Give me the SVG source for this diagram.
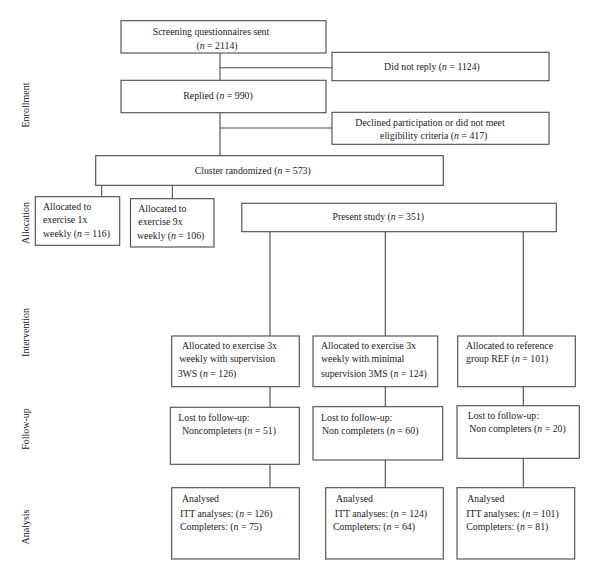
<svg xmlns="http://www.w3.org/2000/svg" width="600" height="580" viewBox="0 0 600 580">
<style>
rect.b{fill:#fff;stroke:#4a4a4a;stroke-width:1.1}
text{font-family:"Liberation Serif","Times New Roman",serif;font-size:9.8px;fill:#222}
.c{text-anchor:middle}
.i{font-style:italic}
.lab{text-anchor:middle;font-size:10px}
#conn line{stroke:#4a4a4a;stroke-width:1.1}
</style>
<rect width="600" height="580" fill="#fff"/>
<g id="conn">
<line x1="220" y1="53" x2="220" y2="80.3"/>
<line x1="220" y1="67.7" x2="332" y2="67.7"/>
<line x1="220" y1="112.7" x2="220" y2="155.7"/>
<line x1="220" y1="128" x2="332" y2="128"/>
<line x1="101.7" y1="185.3" x2="101.7" y2="196.7"/>
<line x1="172.3" y1="185.3" x2="172.3" y2="198.7"/>
<line x1="270" y1="231.7" x2="270" y2="336"/>
<line x1="385.3" y1="231.7" x2="385.3" y2="336"/>
<line x1="523.3" y1="231.7" x2="523.3" y2="336"/>
<line x1="270" y1="386.7" x2="270" y2="407.3"/>
<line x1="385.3" y1="386.7" x2="385.3" y2="406.7"/>
<line x1="523.3" y1="386.7" x2="523.3" y2="405.7"/>
<line x1="270" y1="464.3" x2="270" y2="487.7"/>
<line x1="385.3" y1="460" x2="385.3" y2="487.7"/>
<line x1="523.3" y1="458.3" x2="523.3" y2="487.7"/>
</g>
<g id="labels">
<text class="lab" transform="translate(29,105) rotate(-90)">Enrollment</text>
<text class="lab" transform="translate(29,223) rotate(-90)">Allocation</text>
<text class="lab" transform="translate(29,332.5) rotate(-90)">Intervention</text>
<text class="lab" transform="translate(29,429) rotate(-90)">Follow-up</text>
<text class="lab" transform="translate(29,527) rotate(-90)">Analysis</text>
</g>
<g id="screening">
<rect class="b" x="121" y="20.7" width="205" height="32.3"/>
<text class="c" x="211" y="35">Screening questionnaires sent</text>
<text class="c" x="217" y="48.5">(<tspan class="i">n</tspan> = 2114)</text>
</g>
<g id="noreply">
<rect class="b" x="332" y="52.3" width="217" height="28.4"/>
<text class="c" x="432" y="69.5">Did not reply (<tspan class="i">n</tspan> = 1124)</text>
</g>
<g id="replied">
<rect class="b" x="121" y="80.3" width="205" height="32.4"/>
<text class="c" x="218" y="98.5">Replied (<tspan class="i">n</tspan> = 990)</text>
</g>
<g id="declined">
<rect class="b" x="332" y="112.3" width="217" height="32"/>
<text class="c" x="430" y="126">Declined participation or did not meet</text>
<text class="c" x="433.7" y="139">eligibility criteria (<tspan class="i">n</tspan> = 417)</text>
</g>
<g id="cluster">
<rect class="b" x="95.7" y="155.7" width="347.6" height="29.6"/>
<text class="c" x="252.7" y="174">Cluster randomized (<tspan class="i">n</tspan> = 573)</text>
</g>
<g id="alloc1x">
<rect class="b" x="35.3" y="196.7" width="84.4" height="48.6"/>
<text x="43" y="210">Allocated to</text>
<text x="43" y="223.3">exercise 1x</text>
<text x="43" y="236.5">weekly (<tspan class="i">n</tspan> = 116)</text>
</g>
<g id="alloc9x">
<rect class="b" x="130.5" y="198.7" width="83.5" height="48.3"/>
<text x="138.3" y="211.7">Allocated to</text>
<text x="138.3" y="225">exercise 9x</text>
<text x="137" y="239.3">weekly (<tspan class="i">n</tspan> = 106)</text>
</g>
<g id="present">
<rect class="b" x="241.8" y="203.3" width="314.5" height="28.4"/>
<text class="c" x="378.3" y="220">Present study (<tspan class="i">n</tspan> = 351)</text>
</g>
<g id="int3ws">
<rect class="b" x="171.7" y="336" width="127.6" height="50.7"/>
<text x="182" y="349.3">Allocated to exercise 3x</text>
<text x="179.3" y="362.3">weekly with supervision</text>
<text x="177.7" y="376.7">3WS (<tspan class="i">n</tspan> = 126)</text>
</g>
<g id="int3ms">
<rect class="b" x="313" y="336" width="124.7" height="50.7"/>
<text x="321" y="349.3">Allocated to exercise 3x</text>
<text x="321" y="362.3">weekly with minimal</text>
<text x="321" y="376.7">supervision 3MS (<tspan class="i">n</tspan> = 124)</text>
</g>
<g id="intref">
<rect class="b" x="457.7" y="336" width="117.6" height="50.7"/>
<text x="466" y="349.3">Allocated to reference</text>
<text x="466" y="362.3">group REF (<tspan class="i">n</tspan> = 101)</text>
</g>
<g id="fu3ws">
<rect class="b" x="170.3" y="407.3" width="129" height="57"/>
<text x="178.3" y="421">Lost to follow-up:</text>
<text x="182" y="434.3">Noncompleters (<tspan class="i">n</tspan> = 51)</text>
</g>
<g id="fu3ms">
<rect class="b" x="313" y="406.7" width="129.7" height="53.3"/>
<text x="321" y="420.5">Lost to follow-up:</text>
<text x="322" y="433.5">Non completers (<tspan class="i">n</tspan> = 60)</text>
</g>
<g id="furef">
<rect class="b" x="457" y="405.7" width="122.3" height="52.6"/>
<text x="467.7" y="419.3">Lost to follow-up:</text>
<text x="469.3" y="432.3">Non completers (<tspan class="i">n</tspan> = 20)</text>
</g>
<g id="an3ws">
<rect class="b" x="171.7" y="487.7" width="127.6" height="71.3"/>
<text x="182" y="501.7">Analysed</text>
<text x="180" y="516.7">ITT analyses: (<tspan class="i">n</tspan> = 126)</text>
<text x="180" y="530">Completers: (<tspan class="i">n</tspan> = 75)</text>
</g>
<g id="an3ms">
<rect class="b" x="325.7" y="487.7" width="117.6" height="71.3"/>
<text x="336" y="501.7">Analysed</text>
<text x="334.7" y="516.7">ITT analyses: (<tspan class="i">n</tspan> = 124)</text>
<text x="333" y="530">Completers: (<tspan class="i">n</tspan> = 64)</text>
</g>
<g id="anref">
<rect class="b" x="457" y="487.7" width="117.7" height="71.3"/>
<text x="467.3" y="501.7">Analysed</text>
<text x="466.3" y="516.7">ITT analyses: (<tspan class="i">n</tspan> = 101)</text>
<text x="466.3" y="530">Completers: (<tspan class="i">n</tspan> = 81)</text>
</g>
</svg>
